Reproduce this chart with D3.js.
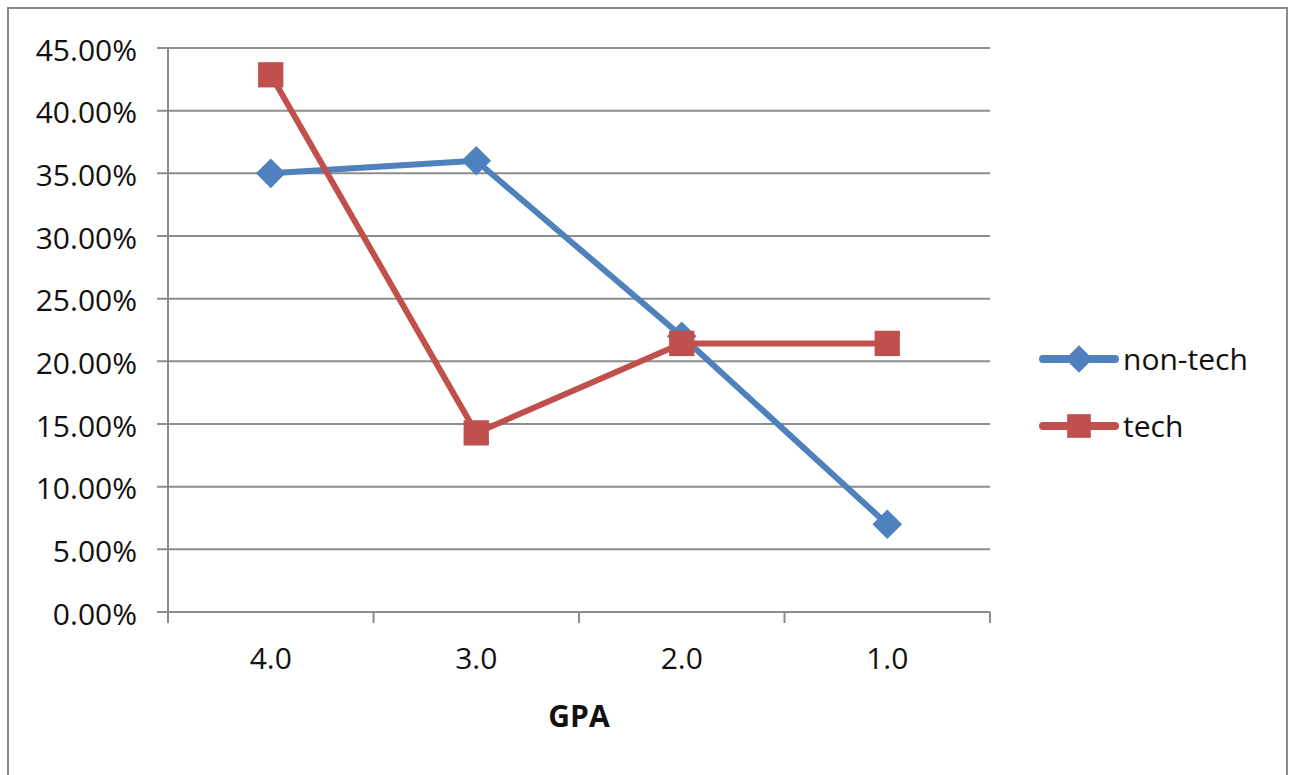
<!DOCTYPE html>
<html>
<head>
<meta charset="utf-8">
<script src="https://cdn.jsdelivr.net/npm/d3@7"></script>
<style>
  body { margin: 0; background: #fff; }
  svg text { font-family: "Open Sans", sans-serif; fill: #111; }
</style>
</head>
<body>
<div id="chart"></div>
<script>
// data
var categories = ['4.0', '3.0', '2.0', '1.0'];
var nonTech = [0.35, 0.36, 0.22, 0.07];
var tech = [0.4286, 0.1429, 0.2143, 0.2143];
var yTicks = [0, 0.05, 0.10, 0.15, 0.20, 0.25, 0.30, 0.35, 0.40, 0.45];
var seriesNames = ['non-tech', 'tech'];
var seriesColors = ['#4F81BD', '#C0504D'];

var W = 1289, H = 775;
var m = {left: 168, top: 48, right: 299, bottom: 163};
var w = W - m.left - m.right;   // 822
var h = H - m.top - m.bottom;   // 564

var svg = d3.select('#chart').append('svg')
  .attr('width', W).attr('height', H);

// outer chart border
svg.append('rect')
  .attr('x', 8).attr('y', 8)
  .attr('width', 1279).attr('height', 780)
  .attr('fill', 'none').attr('stroke', '#8a8a8a').attr('stroke-width', 2);

var g = svg.append('g').attr('transform', 'translate(' + m.left + ',' + m.top + ')');

var x = d3.scaleBand().domain(categories).range([0, w]).padding(0);
var y = d3.scaleLinear().domain([0, 0.45]).range([h, 0]);

// gridlines (they also act as the y tick marks)
g.selectAll('.grid').data(yTicks).enter().append('line')
  .attr('x1', -11).attr('x2', w)
  .attr('y1', function(d) { return y(d); })
  .attr('y2', function(d) { return y(d); })
  .attr('stroke', '#8c8c8c').attr('stroke-width', 2);

// y labels
var yAxis = d3.axisLeft(y).tickValues(yTicks).tickFormat(d3.format('.2%')).tickSize(0).tickPadding(31);
var ya = g.append('g').call(yAxis);
ya.select('.domain').remove();
ya.selectAll('text').style('font-size', '30px').attr('dy', '0.4em');

// vertical axis line
g.append('line')
  .attr('x1', 0).attr('x2', 0).attr('y1', 0).attr('y2', h + 11)
  .attr('stroke', '#8c8c8c').attr('stroke-width', 2);

// x tick marks at band boundaries
var bounds = categories.map(function(c) { return x(c); }).concat([w]);
g.selectAll('.xtick').data(bounds).enter().append('line')
  .attr('x1', function(d) { return d; }).attr('x2', function(d) { return d; })
  .attr('y1', h).attr('y2', h + 11)
  .attr('stroke', '#8c8c8c').attr('stroke-width', 2);

// x labels
var xAxis = d3.axisBottom(x).tickSize(0).tickPadding(36);
var xa = g.append('g').attr('transform', 'translate(0,' + h + ')').call(xAxis);
xa.select('.domain').remove();
xa.selectAll('text').style('font-size', '30px');

// axis title
g.append('text')
  .attr('x', w / 2).attr('y', h + 115)
  .attr('text-anchor', 'middle')
  .style('font-size', '30px').style('font-weight', 'bold')
  .text('GPA');

var line = d3.line()
  .x(function(d, i) { return x(categories[i]) + x.bandwidth() / 2; })
  .y(function(d) { return y(d); });

var diamond = d3.symbol().type(d3.symbolDiamond2).size(560);
var square = d3.symbol().type(d3.symbolSquare).size(640);

function drawSeries(data, color, sym) {
  g.append('path').datum(data)
    .attr('d', line)
    .attr('fill', 'none').attr('stroke', color)
    .attr('stroke-width', 6).attr('stroke-linejoin', 'round');
  g.selectAll(null).data(data).enter().append('path')
    .attr('d', sym)
    .attr('transform', function(d, i) {
      return 'translate(' + (x(categories[i]) + x.bandwidth() / 2) + ',' + y(d) + ')';
    })
    .attr('fill', color);
}

drawSeries(nonTech, seriesColors[0], diamond);
drawSeries(tech, seriesColors[1], square);

// legend
var legendY = [359, 426];
var symbols = [d3.symbol().type(d3.symbolDiamond2).size(480), d3.symbol().type(d3.symbolSquare).size(560)];
seriesNames.forEach(function(name, i) {
  var lg = svg.append('g').attr('transform', 'translate(1043,' + legendY[i] + ')');
  lg.append('line').attr('x1', 0).attr('x2', 72).attr('y1', 0).attr('y2', 0)
    .attr('stroke', seriesColors[i]).attr('stroke-width', 8).attr('stroke-linecap', 'round');
  lg.append('path').attr('d', symbols[i]).attr('transform', 'translate(36,0)').attr('fill', seriesColors[i]);
  lg.append('text').attr('x', 80).attr('y', 0).attr('dy', '0.35em')
    .style('font-size', '30px').text(name);
});
</script>
</body>
</html>
